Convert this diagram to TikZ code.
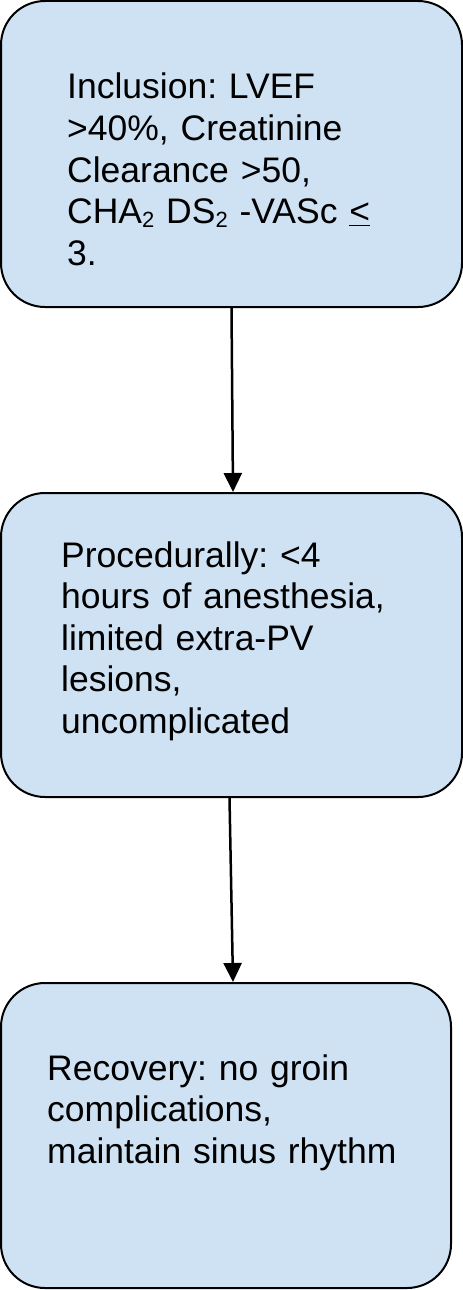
\documentclass[tikz,border=0pt]{standalone}
\usepackage{fontspec}
\setmainfont{Liberation Sans}
\usetikzlibrary{arrows.meta,calc}
\definecolor{boxfill}{HTML}{CFE2F3}
\frenchspacing
\newcommand{\subtwo}{{\fontsize{22}{22}\selectfont\raisebox{-4pt}{2}}}
\tikzset{
  flowbox/.style={draw=black, line width=2pt, fill=boxfill, rounded corners=44pt, inner sep=0pt},
  flowtext/.style={anchor=base west, inner sep=0pt, align=left, text width=400pt,
    font=\fontsize{35.5}{41.5}\selectfont},
  flowarrow/.style={line width=2.5pt, -{Triangle[width=18pt,length=19pt]}}
}
\begin{document}
\begin{tikzpicture}[x=1pt,y=-1pt]
\useasboundingbox (0,0) rectangle (463,1290);
\node[flowbox, minimum width=461pt, minimum height=306pt] (b1) at (231.5,154) {};
\node[flowbox, minimum width=461pt, minimum height=304pt] (b2) at (231.5,645) {};
\node[flowbox, minimum width=450pt, minimum height=305pt] (b3) at (226,1135.5) {};
\node[flowtext] (t1) at (67,99) {\frenchspacing Inclusion: LVEF\\ >40\%, Creatinine\\ Clearance >50,\\ CHA\subtwo{} DS\subtwo{} -VASc \underline{<}\\ 3.};
\node[flowtext] (t2) at (61,567) {\frenchspacing Procedurally: <4\\ hours of anesthesia,\\ limited extra-PV\\ lesions,\\ uncomplicated};
\node[flowtext] (t3) at (47,1080) {\frenchspacing Recovery: no groin\\ complications,\\ maintain sinus rhythm};
\draw[flowarrow] (b1.south) -- ([xshift=1.5pt]b2.north);
\draw[flowarrow] ([xshift=-2pt]b2.south) -- ([xshift=7pt]b3.north);
\end{tikzpicture}
\end{document}
